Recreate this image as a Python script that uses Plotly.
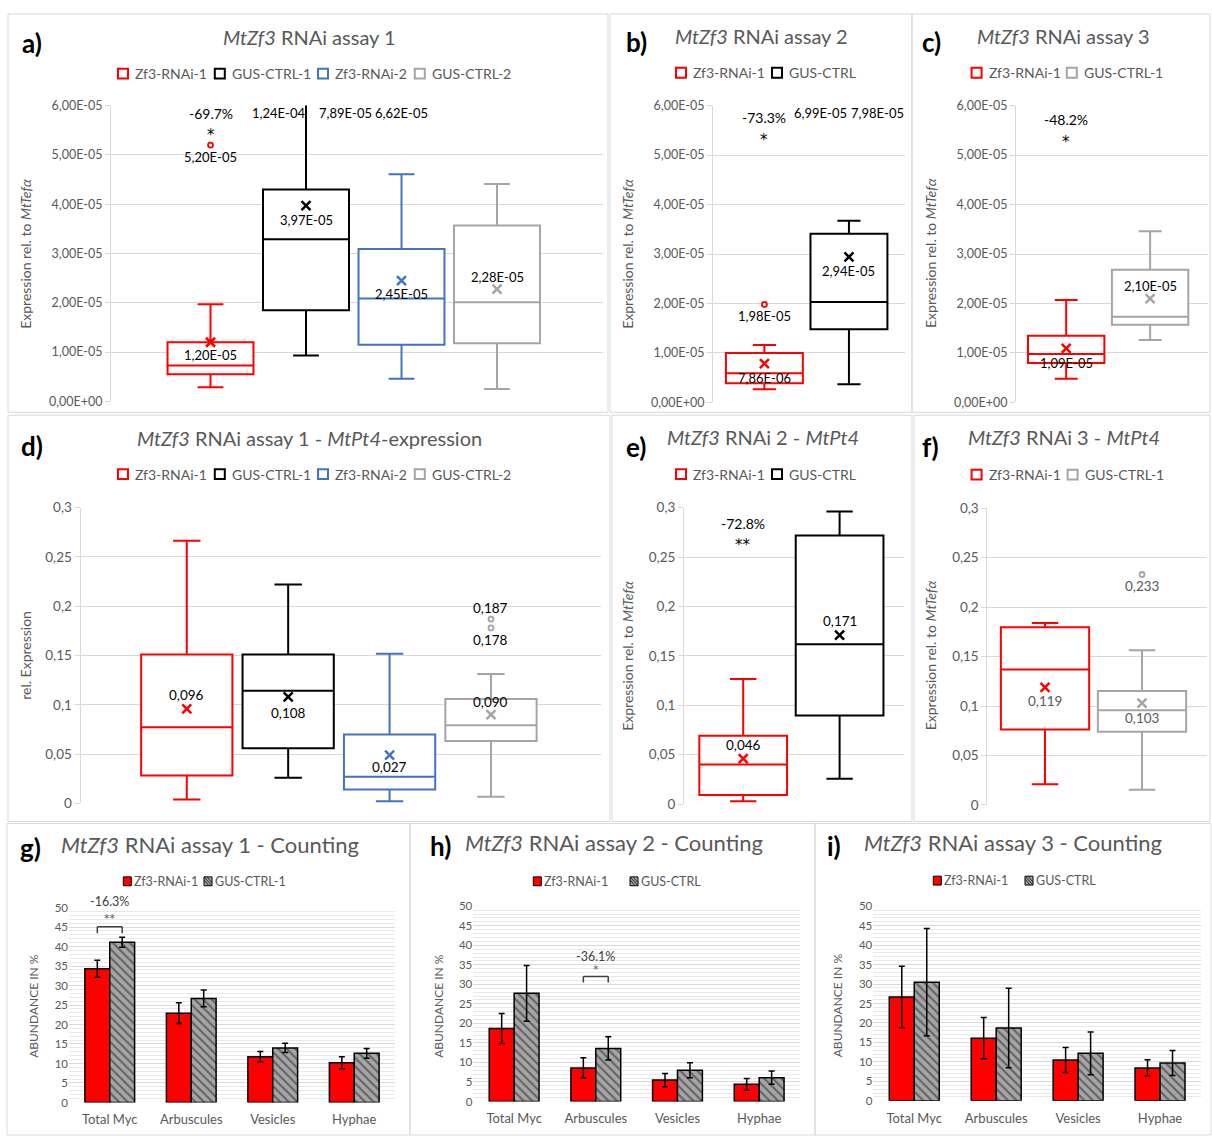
import plotly.graph_objects as go

W, H = 1212, 1144
FONT = "Lato"
STAR_FONT = "DejaVu Sans"

RED, BLACK, BLUE, GRAY = "#ff0000", "#000000", "#4472c4", "#a5a5a5"
TXT, GRID, FRAME = "#595959", "#d9d9d9", "#d9d9d9"
HATCH_BG = "#a6a6a6"

# ---------------- tick labels ----------------
expr_tickvals = [0, 1e-5, 2e-5, 3e-5, 4e-5, 5e-5, 6e-5]
expr_ticktext = ["0,00E+00", "1,00E-05", "2,00E-05", "3,00E-05", "4,00E-05", "5,00E-05", "6,00E-05"]
pt4_tickvals = [0, 0.05, 0.1, 0.15, 0.2, 0.25, 0.3]
pt4_ticktext = ["0", "0,05", "0,1", "0,15", "0,2", "0,25", "0,3"]
count_tickvals = [0, 5, 10, 15, 20, 25, 30, 35, 40, 45, 50]
count_categories = ["Total Myc", "Arbuscules", "Vesicles", "Hyphae"]

# ---------------- a) MtZf3 RNAi assay 1 ----------------
a_names = ["Zf3-RNAi-1", "GUS-CTRL-1", "Zf3-RNAi-2", "GUS-CTRL-2"]
a_q1 = [5.5e-6, 1.85e-5, 1.15e-5, 1.18e-5]
a_median = [7.3e-6, 3.29e-5, 2.09e-5, 2.01e-5]
a_q3 = [1.20e-5, 4.30e-5, 3.09e-5, 3.57e-5]
a_low = [2.9e-6, 9.3e-6, 4.6e-6, 2.5e-6]
a_high = [1.97e-5, 7.89e-5, 4.61e-5, 4.41e-5]
a_mean = [1.20e-5, 3.97e-5, 2.45e-5, 2.28e-5]
a_outliers = [[5.20e-5], [1.24e-4], [6.62e-5], []]
a_change, a_sig = "-69.7%", "*"

# ---------------- b) MtZf3 RNAi assay 2 ----------------
b_names = ["Zf3-RNAi-1", "GUS-CTRL"]
b_q1 = [3.85e-6, 1.48e-5]
b_median = [5.9e-6, 2.03e-5]
b_q3 = [1.00e-5, 3.41e-5]
b_low = [2.65e-6, 3.65e-6]
b_high = [1.16e-5, 3.67e-5]
b_mean = [7.86e-6, 2.94e-5]
b_outliers = [[1.98e-5], [6.99e-5, 7.98e-5]]
b_change, b_sig = "-73.3%", "*"

# ---------------- c) MtZf3 RNAi assay 3 ----------------
c_names = ["Zf3-RNAi-1", "GUS-CTRL-1"]
c_q1 = [7.97e-6, 1.57e-5]
c_median = [9.77e-6, 1.73e-5]
c_q3 = [1.35e-5, 2.68e-5]
c_low = [4.78e-6, 1.26e-5]
c_high = [2.07e-5, 3.46e-5]
c_mean = [1.09e-5, 2.10e-5]
c_outliers = [[], []]
c_change, c_sig = "-48.2%", "*"

# ---------------- d) assay 1 - MtPt4 expression ----------------
d_names = ["Zf3-RNAi-1", "GUS-CTRL-1", "Zf3-RNAi-2", "GUS-CTRL-2"]
d_q1 = [0.0283, 0.056, 0.014, 0.0633]
d_median = [0.0773, 0.1143, 0.027, 0.0793]
d_q3 = [0.151, 0.151, 0.070, 0.106]
d_low = [0.004, 0.026, 0.0023, 0.0067]
d_high = [0.2663, 0.222, 0.1517, 0.1313]
d_mean = [0.096, 0.108, 0.049, 0.090]
d_outliers = [[], [], [], [0.187, 0.178]]

# ---------------- e) assay 2 - MtPt4 ----------------
e_names = ["Zf3-RNAi-1", "GUS-CTRL"]
e_q1 = [0.009, 0.0895]
e_median = [0.0399, 0.1616]
e_q3 = [0.0692, 0.2717]
e_low = [0.0027, 0.0256]
e_high = [0.1264, 0.296]
e_mean = [0.046, 0.171]
e_outliers = [[], []]
e_change, e_sig = "-72.8%", "**"

# ---------------- f) assay 3 - MtPt4 ----------------
f_names = ["Zf3-RNAi-1", "GUS-CTRL-1"]
f_q1 = [0.0764, 0.0741]
f_median = [0.1369, 0.0957]
f_q3 = [0.1797, 0.1153]
f_low = [0.0209, 0.0153]
f_high = [0.184, 0.1565]
f_mean = [0.119, 0.103]
f_outliers = [[], [0.233]]

# ---------------- g-i) counting (abundance in %) ----------------
g_names = ["Zf3-RNAi-1", "GUS-CTRL-1"]
g_rnai = [34.3, 22.9, 11.7, 10.2]
g_rnai_err = [2.15, 2.66, 1.35, 1.56]
g_ctrl = [41.1, 26.7, 14.0, 12.6]
g_ctrl_err = [1.26, 2.15, 1.18, 1.26]
g_change, g_sig = "-16.3%", "**"

h_names = ["Zf3-RNAi-1", "GUS-CTRL"]
h_rnai = [18.7, 8.6, 5.5, 4.4]
h_rnai_err = [3.83, 2.6, 1.7, 1.5]
h_ctrl = [27.7, 13.6, 8.0, 6.1]
h_ctrl_err = [7.15, 3.0, 1.9, 1.7]
h_change, h_sig = "-36.1%", "*"

i_names = ["Zf3-RNAi-1", "GUS-CTRL"]
i_rnai = [26.7, 16.1, 10.5, 8.45]
i_rnai_err = [7.9, 5.3, 3.2, 2.07]
i_ctrl = [30.5, 18.7, 12.2, 9.7]
i_ctrl_err = [13.8, 10.2, 5.5, 3.2]


def fmt_sci(v):
    return f"{v:.2E}".replace(".", ",")


def fmt_dec(v):
    return f"{v:.3f}".replace(".", ",")


def PX(x):
    return x / W


def PY(y):
    return 1 - y / H


fig = go.Figure()
shapes = []
annotations = []
axes = {}


def axis_names(k):
    s = "" if k == 1 else str(k)
    return "x" + s, "y" + s, "xaxis" + s, "yaxis" + s


def text(t, x, y, size, color=TXT, xanchor="center", yanchor="middle", angle=0):
    annotations.append(dict(text=t, x=PX(x), y=PY(y), xref="paper", yref="paper",
                            showarrow=False, xanchor=xanchor, yanchor=yanchor,
                            textangle=angle, font=dict(family=FONT, size=size, color=color)))


def data_text(t, k, x, y, size, color=BLACK, yshift=0, family=FONT):
    xr, yr, _, _ = axis_names(k)
    annotations.append(dict(text=t, x=x, y=y, xref=xr, yref=yr, showarrow=False,
                            yshift=yshift, font=dict(family=family, size=size, color=color)))


def frame(x0, y0, x1, y1):
    shapes.append(dict(type="rect", xref="paper", yref="paper", x0=PX(x0), x1=PX(x1),
                       y0=PY(y1), y1=PY(y0), line=dict(color=FRAME, width=1),
                       fillcolor="rgba(0,0,0,0)", layer="below"))


def legend_boxes(names, colors, xs, y):
    for n, c, x in zip(names, colors, xs):
        shapes.append(dict(type="rect", xref="paper", yref="paper", x0=PX(x), x1=PX(x + 10),
                           y0=PY(y + 5), y1=PY(y - 5), line=dict(color=c, width=2),
                           fillcolor="white"))
        text(n, x + 15, y, 14, xanchor="left")


def legend_bars(names, xs, y):
    # solid red swatch
    x = xs[0]
    shapes.append(dict(type="rect", xref="paper", yref="paper", x0=PX(x), x1=PX(x + 8),
                       y0=PY(y + 4.5), y1=PY(y - 4.5), line=dict(color=BLACK, width=1),
                       fillcolor=RED))
    text(names[0], x + 9, y, 12.5, xanchor="left")
    # hatched swatch
    x = xs[1]
    shapes.append(dict(type="rect", xref="paper", yref="paper", x0=PX(x), x1=PX(x + 8),
                       y0=PY(y + 4.5), y1=PY(y - 4.5), line=dict(color=BLACK, width=1),
                       fillcolor=HATCH_BG))
    for d in (-3, 0, 3):
        shapes.append(dict(type="line", xref="paper", yref="paper",
                           x0=PX(x + max(0, d)), y0=PY(y - 4.5 + max(0, -d)),
                           x1=PX(x + 8 - max(0, -d)), y1=PY(y + 4.5 - max(0, d)),
                           line=dict(color="#222222", width=1)))
    text(names[1], x + 9, y, 12.5, xanchor="left")


def box_axes(k, dx, dy, xr, yr, tickvals, ticktext, tsize):
    xs, ys, xa, ya = axis_names(k)
    axes[xa] = dict(domain=[PX(dx[0]), PX(dx[1])], range=list(xr), anchor=ys,
                    showticklabels=False, showgrid=False, zeroline=False, showline=False,
                    fixedrange=True)
    axes[ya] = dict(domain=[PY(dy[1]), PY(dy[0])], range=list(yr), anchor=xs,
                    tickvals=tickvals, ticktext=ticktext, showgrid=True, gridcolor=GRID,
                    gridwidth=1, zeroline=False, showline=True, linecolor=GRID, linewidth=1,
                    ticks="outside", ticklen=5, tickcolor=GRID,
                    tickfont=dict(family=FONT, size=tsize, color=TXT), fixedrange=True)


def box_group(k, colors, q1, med, q3, lo, hi, mean, outliers, width):
    xr, yr, _, _ = axis_names(k)
    for i, c in enumerate(colors):
        pos = i + 1
        fig.add_trace(go.Box(x=[pos], q1=[q1[i]], median=[med[i]], q3=[q3[i]],
                             lowerfence=[lo[i]], upperfence=[hi[i]], width=width,
                             whiskerwidth=0.3, fillcolor="white", line=dict(color=c, width=2),
                             boxpoints=False, showlegend=False, hoverinfo="skip",
                             xaxis=xr, yaxis=yr))
        fig.add_trace(go.Scatter(x=[pos], y=[mean[i]], mode="markers",
                                 marker=dict(symbol="x-thin", size=9, color=c,
                                             line=dict(color=c, width=2.5)),
                                 showlegend=False, hoverinfo="skip", xaxis=xr, yaxis=yr))
        if outliers[i]:
            fig.add_trace(go.Scatter(x=[pos] * len(outliers[i]), y=outliers[i], mode="markers",
                                     marker=dict(symbol="circle-open", size=5, color=c,
                                                 line=dict(color=c, width=1.8)),
                                     cliponaxis=True, showlegend=False, hoverinfo="skip",
                                     xaxis=xr, yaxis=yr))


def bar_axes(k, dx, dy):
    xs, ys, xa, ya = axis_names(k)
    axes[xa] = dict(domain=[PX(dx[0]), PX(dx[1])], range=[-0.5, 3.5], anchor=ys,
                    tickvals=list(range(len(count_categories))), ticktext=count_categories,
                    showgrid=False, zeroline=False, showline=False, ticks="",
                    ticklabelstandoff=8,
                    tickfont=dict(family=FONT, size=13, color=TXT), fixedrange=True)
    axes[ya] = dict(domain=[PY(dy[1]), PY(dy[0])], range=[0, 50], anchor=xs,
                    tickvals=count_tickvals, showgrid=True, gridcolor=GRID, gridwidth=1,
                    minor=dict(tick0=0, dtick=1, showgrid=True, gridcolor="#e9e9e9", gridwidth=1),
                    zeroline=False, showline=False, ticks="",
                    tickfont=dict(family=FONT, size=11.5, color=TXT), fixedrange=True)


def bar_group(k, rnai, rnai_err, ctrl, ctrl_err):
    xr, yr, _, _ = axis_names(k)
    pos = list(range(len(count_categories)))
    fig.add_trace(go.Bar(x=pos, y=rnai, marker=dict(color=RED, line=dict(color=BLACK, width=1.5)),
                         error_y=dict(type="data", array=rnai_err, color=BLACK, thickness=1.5, width=3),
                         showlegend=False, hoverinfo="skip", xaxis=xr, yaxis=yr))
    fig.add_trace(go.Bar(x=pos, y=ctrl,
                         marker=dict(color=HATCH_BG, line=dict(color=BLACK, width=1.5),
                                     pattern=dict(shape="\\", fgcolor="#1e1e1e", bgcolor=HATCH_BG,
                                                  size=6, solidity=0.35)),
                         error_y=dict(type="data", array=ctrl_err, color=BLACK, thickness=1.5, width=3),
                         showlegend=False, hoverinfo="skip", xaxis=xr, yaxis=yr))


def bracket(k, cat, y_top, y_end, half=0.1525):
    xr, yr, _, _ = axis_names(k)
    for x0, y0, x1, y1 in ((cat - half, y_top, cat + half, y_top),
                           (cat - half, y_end, cat - half, y_top),
                           (cat + half, y_end, cat + half, y_top)):
        shapes.append(dict(type="line", xref=xr, yref=yr, x0=x0, y0=y0, x1=x1, y1=y1,
                           line=dict(color="#404040", width=1.5)))


# ---------------- panel frames ----------------
frame(8, 6, 608, 410)
frame(610, 6, 912, 410)
frame(912, 6, 1210, 410)
frame(8, 413, 610, 825)
frame(612, 413, 912, 825)
frame(914, 413, 1210, 825)
frame(7, 827, 410, 1143)
frame(410, 827, 815, 1143)
frame(815, 827, 1211, 1143)

EXPR_TITLE = "Expression rel. to <i>MtTefα</i>"

# ---------------- a ----------------
a_colors = [RED, BLACK, BLUE, GRAY]
box_axes(1, (111, 603), (99, 399), (-0.042, 5.11), (0, 6e-5), expr_tickvals, expr_ticktext, 12.5)
box_group(1, a_colors, a_q1, a_median, a_q3, a_low, a_high, a_mean, a_outliers, 0.9)
for i, sh in enumerate([-13, -14, -13, 12]):
    data_text(fmt_sci(a_mean[i]), 1, i + 1, a_mean[i], 13, yshift=sh)
data_text(fmt_sci(a_outliers[0][0]), 1, 1, a_outliers[0][0], 13, yshift=-12)
for v, xp in ((a_outliers[1][0], 1.71), (a_high[1], 2.41), (a_outliers[2][0], 3.0)):
    data_text(fmt_sci(v), 1, xp, 5.85e-5, 13)
data_text(a_change, 1, 1, 5.85e-5, 14)
data_text(a_sig, 1, 1, 5.46e-5, 15, yshift=-3, family=STAR_FONT)
text("<b>a)</b>", 32, 35, 26, BLACK)
text("<i>MtZf3</i> RNAi assay 1", 309.5, 29, 20)
legend_boxes(a_names, a_colors, [118, 214.8, 318, 414.8], 66.5)
text(EXPR_TITLE, 25.3, 249, 14, angle=-90)

# ---------------- b ----------------
b_colors = [RED, BLACK]
box_axes(2, (713, 905), (99, 400), (0.392, 2.663), (0, 6e-5), expr_tickvals, expr_ticktext, 12.5)
box_group(2, b_colors, b_q1, b_median, b_q3, b_low, b_high, b_mean, b_outliers, 0.91)
for i, sh in enumerate([-14, -14]):
    data_text(fmt_sci(b_mean[i]), 2, i + 1, b_mean[i], 13, yshift=sh)
data_text(fmt_sci(b_outliers[0][0]), 2, 1, b_outliers[0][0], 13, yshift=-12)
for v, xp in zip(b_outliers[1], (1.664, 2.34)):
    data_text(fmt_sci(v), 2, xp, 5.86e-5, 13)
data_text(b_change, 2, 1, 5.76e-5, 14)
data_text(b_sig, 2, 1, 5.37e-5, 15, yshift=-3, family=STAR_FONT)
text("<b>b)</b>", 636, 34, 26, BLACK)
text("<i>MtZf3</i> RNAi assay 2", 761.6, 28.3, 20)
legend_boxes(b_names, b_colors, [676, 772], 65.7)
text(EXPR_TITLE, 627.3, 249, 14, angle=-90)

# ---------------- c ----------------
c_colors = [RED, GRAY]
box_axes(3, (1016, 1207.7), (99, 400), (0.402, 2.686), (0, 6e-5), expr_tickvals, expr_ticktext, 12.5)
box_group(3, c_colors, c_q1, c_median, c_q3, c_low, c_high, c_mean, c_outliers, 0.91)
for i, sh in enumerate([-15, 13]):
    data_text(fmt_sci(c_mean[i]), 3, i + 1, c_mean[i], 13, yshift=sh)
data_text(c_change, 3, 1, 5.71e-5, 14)
data_text(c_sig, 3, 1, 5.33e-5, 15, yshift=-3, family=STAR_FONT)
text("<b>c)</b>", 931, 34, 26, BLACK)
text("<i>MtZf3</i> RNAi assay 3", 1063.6, 28.3, 20)
legend_boxes(c_names, c_colors, [971.6, 1066.8], 65.7)
text(EXPR_TITLE, 930.5, 249, 14, angle=-90)

# ---------------- d ----------------
d_colors = [RED, BLACK, BLUE, GRAY]
box_axes(4, (80.5, 601), (506.7, 806.7), (-0.048, 5.085), (0, 0.3), pt4_tickvals, pt4_ticktext, 13.5)
box_group(4, d_colors, d_q1, d_median, d_q3, d_low, d_high, d_mean, d_outliers, 0.9)
# value labels sit next to the mean markers; the Zf3-RNAi-2 label reports its median
d_label_text = [d_mean[0], d_mean[1], d_median[2], d_mean[3]]
for i, sh in enumerate([14, -16, -12, 13]):
    data_text(fmt_dec(d_label_text[i]), 4, i + 1, d_mean[i], 13.5, yshift=sh)
data_text(fmt_dec(d_outliers[3][0]), 4, 4, d_outliers[3][0], 13.5, yshift=11)
data_text(fmt_dec(d_outliers[3][1]), 4, 4, d_outliers[3][1], 13.5, yshift=-12)
text("<b>d)</b>", 32, 444, 26, BLACK)
text("<i>MtZf3</i> RNAi assay 1 - <i>MtPt4</i>-expression", 309, 436, 20)
legend_boxes(d_names, d_colors, [118, 214.8, 318, 414.8], 472.7)
text("rel. Expression", 25.3, 656.7, 14, angle=-90)

# ---------------- e ----------------
e_colors = [RED, BLACK]
box_axes(5, (684, 903.7), (506.7, 807.3), (0.386, 2.665), (0, 0.3), pt4_tickvals, pt4_ticktext, 13.5)
box_group(5, e_colors, e_q1, e_median, e_q3, e_low, e_high, e_mean, e_outliers, 0.91)
for i, sh in enumerate([14, 14]):
    data_text(fmt_dec(e_mean[i]), 5, i + 1, e_mean[i], 13.5, yshift=sh)
data_text(e_change, 5, 1, 0.2844, 14)
data_text(e_sig, 5, 1, 0.265, 15, yshift=-3, family=STAR_FONT)
text("<b>e)</b>", 636, 445, 26, BLACK)
text("<i>MtZf3</i> RNAi 2 - <i>MtPt4</i>", 762.6, 435, 20)
legend_boxes(e_names, e_colors, [676, 772], 472.7)
text(EXPR_TITLE, 628, 657, 14, angle=-90)

# ---------------- f ----------------
f_colors = [RED, GRAY]
box_axes(6, (987.4, 1207), (507.3, 808.3), (0.406, 2.67), (0, 0.3), pt4_tickvals, pt4_ticktext, 13.5)
box_group(6, f_colors, f_q1, f_median, f_q3, f_low, f_high, f_mean, f_outliers, 0.91)
for i, sh in enumerate([-14, -15]):
    data_text(fmt_dec(f_mean[i]), 6, i + 1, f_mean[i], 13.5, color=TXT, yshift=sh)
data_text(fmt_dec(f_outliers[1][0]), 6, 2, f_outliers[1][0], 13.5, color=TXT, yshift=-12)
text("<b>f)</b>", 930, 445, 26, BLACK)
text("<i>MtZf3</i> RNAi 3 - <i>MtPt4</i>", 1064, 435, 20)
legend_boxes(f_names, f_colors, [971.6, 1067.6], 473.3)
text(EXPR_TITLE, 930.5, 657, 14, angle=-90)

# ---------------- g ----------------
bar_axes(7, (69, 395), (912.3, 1110))
bar_group(7, g_rnai, g_rnai_err, g_ctrl, g_ctrl_err)
bracket(7, 0, 45.1, 43.4)
data_text(g_sig, 7, 0, 47.8, 11, color=TXT, yshift=-2, family=STAR_FONT)
# the change label sits just above the top of the axis range
data_text(g_change, 7, 0, 50, 12.5, color="#404040", yshift=6.5)
text("<b>g)</b>", 30, 852, 26, BLACK)
text("<i>MtZf3</i> RNAi assay 1 - Counting", 210, 848, 22)
legend_bars(g_names, [123.3, 204], 885.7)
text("ABUNDANCE IN %", 33.3, 1011.7, 12, angle=-90)

# ---------------- h ----------------
bar_axes(8, (473.3, 800), (911, 1109))
bar_group(8, h_rnai, h_rnai_err, h_ctrl, h_ctrl_err)
bracket(8, 1, 32.0, 30.5)
data_text(h_sig, 8, 1, 34.3, 11, color=TXT, yshift=-2, family=STAR_FONT)
data_text(h_change, 8, 1, 37.2, 12.5, color="#404040")
text("<b>h)</b>", 440, 850, 26, BLACK)
text("<i>MtZf3</i> RNAi assay 2 - Counting", 613.5, 846.7, 22)
legend_bars(h_names, [533.3, 630], 885.7)
text("ABUNDANCE IN %", 438.3, 1011.7, 12, angle=-90)

# ---------------- i ----------------
bar_axes(9, (873.3, 1201), (911, 1108.3))
bar_group(9, i_rnai, i_rnai_err, i_ctrl, i_ctrl_err)
text("<b>i)</b>", 834, 850, 26, BLACK)
text("<i>MtZf3</i> RNAi assay 3 - Counting", 1013, 846.7, 22)
legend_bars(i_names, [933.3, 1025], 885)
text("ABUNDANCE IN %", 837.7, 1011.7, 12, angle=-90)

fig.update_layout(
    width=W, height=H, margin=dict(l=0, r=0, t=0, b=0),
    paper_bgcolor="white", plot_bgcolor="white",
    font=dict(family=FONT, color=TXT),
    barmode="group", bargap=0.39, bargroupgap=0, boxmode="overlay",
    showlegend=False, shapes=shapes, annotations=annotations,
    **axes,
)

fig.write_html("out.html")
